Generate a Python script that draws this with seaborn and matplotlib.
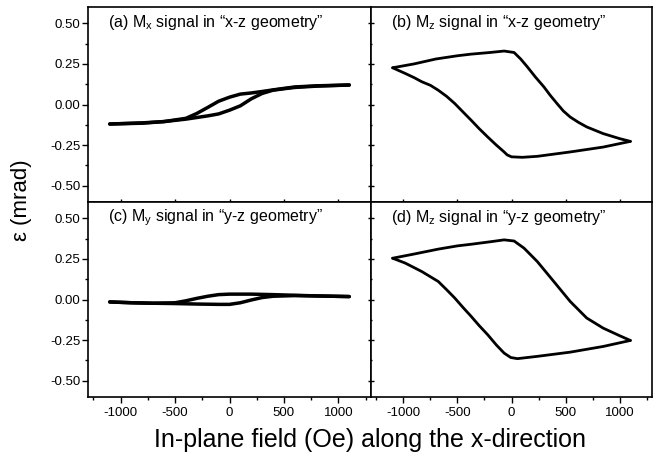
import numpy as np
import pandas as pd
import matplotlib
matplotlib.use("Agg")
import matplotlib.pyplot as plt
from matplotlib.ticker import MultipleLocator
import seaborn as sns

sns.set_theme(style="white")
plt.rcParams['font.family'] = ['Liberation Sans', 'DejaVu Sans']
plt.rcParams['mathtext.fontset'] = 'custom'
plt.rcParams['mathtext.rm'] = 'Liberation Sans'
plt.rcParams['mathtext.it'] = 'Liberation Sans:italic'

# ---- data (field in Oe, epsilon in mrad) ----
# (a) Mx, x-z geometry
a_up_field = [-1100, -800, -600, -400, -300, -200, -100, 0, 100, 200, 300, 400, 500, 600, 800, 1100]
a_up_eps = [-0.12, -0.115, -0.105, -0.09, -0.08, -0.07, -0.058, -0.035, -0.008, 0.035, 0.068, 0.088, 0.097, 0.105, 0.113, 0.12]
a_dn_field = [1100, 800, 600, 400, 300, 200, 100, 0, -100, -200, -300, -400, -600, -800, -1100]
a_dn_eps = [0.12, 0.115, 0.108, 0.09, 0.08, 0.071, 0.064, 0.045, 0.02, -0.018, -0.055, -0.085, -0.105, -0.113, -0.12]

# (b) Mz, x-z geometry
b_up_field = [-1100, -900, -700, -500, -373, -200, -68, 24, 85, 146, 220, 299, 360, 421, 480, 543, 620, 696, 848, 1001, 1100]
b_up_eps = [0.226, 0.25, 0.28, 0.30, 0.31, 0.32, 0.329, 0.32, 0.28, 0.232, 0.17, 0.109, 0.055, 0.006, -0.04, -0.077, -0.11, -0.138, -0.179, -0.21, -0.227]
b_dn_field = [1100, 848, 543, 238, 100, 0, -40, -68, -140, -220, -300, -373, -450, -525, -600, -678, -750, -830, -900, -983, -1100]
b_dn_eps = [-0.227, -0.262, -0.292, -0.319, -0.325, -0.322, -0.31, -0.292, -0.25, -0.2, -0.148, -0.097, -0.045, 0.006, 0.05, 0.088, 0.118, 0.14, 0.165, 0.191, 0.226]

# (c) My, y-z geometry
c_up_field = [-1100, -900, -700, -500, -300, -100, 0, 100, 200, 300, 400, 600, 800, 1100]
c_up_eps = [-0.015, -0.02, -0.023, -0.025, -0.028, -0.03, -0.03, -0.02, -0.003, 0.012, 0.02, 0.024, 0.022, 0.018]
c_dn_field = [1100, 800, 600, 400, 200, 0, -100, -200, -300, -400, -500, -700, -900, -1100]
c_dn_eps = [0.018, 0.022, 0.026, 0.03, 0.033, 0.033, 0.03, 0.02, 0.007, -0.008, -0.02, -0.023, -0.02, -0.015]

# (d) Mz, y-z geometry
d_up_field = [-1100, -900, -678, -500, -373, -200, -68, 24, 116, 238, 391, 543, 696, 848, 1001, 1100]
d_up_eps = [0.254, 0.28, 0.31, 0.33, 0.34, 0.355, 0.367, 0.36, 0.316, 0.234, 0.111, -0.012, -0.114, -0.176, -0.223, -0.252]
d_dn_field = [1100, 848, 543, 238, 55, -7, -68, -140, -220, -300, -373, -450, -525, -600, -678, -830, -983, -1100]
d_dn_eps = [-0.252, -0.289, -0.324, -0.35, -0.364, -0.357, -0.33, -0.28, -0.217, -0.16, -0.104, -0.048, 0.009, 0.06, 0.111, 0.172, 0.224, 0.254]

panel_labels = [
    "(a) M$_{\\mathregular{x}}$ signal in \u201cx-z geometry\u201d",
    "(b) M$_{\\mathregular{z}}$ signal in \u201cx-z geometry\u201d",
    "(c) M$_{\\mathregular{y}}$ signal in \u201cy-z geometry\u201d",
    "(d) M$_{\\mathregular{z}}$ signal in \u201cy-z geometry\u201d",
]
x_ticks = [-1000, -500, 0, 500, 1000]
y_ticks = [-0.50, -0.25, 0.00, 0.25, 0.50]

panels = [
    (a_up_field, a_up_eps, a_dn_field, a_dn_eps),
    (b_up_field, b_up_eps, b_dn_field, b_dn_eps),
    (c_up_field, c_up_eps, c_dn_field, c_dn_eps),
    (d_up_field, d_up_eps, d_dn_field, d_dn_eps),
]

fig = plt.figure(figsize=(6.59, 4.57), dpi=100)
W, H = 659, 457
xl, xm, xr = 88, 371, 652
yt, ym, yb = 7, 202, 397
rects = [
    (xl, yt, xm, ym), (xm, yt, xr, ym),
    (xl, ym, xm, yb), (xm, ym, xr, yb),
]
axes = []
for (x0, y0, x1, y1) in rects:
    ax = fig.add_axes([x0 / W, 1 - y1 / H, (x1 - x0) / W, (y1 - y0) / H])
    axes.append(ax)

for i, (ax, data) in enumerate(zip(axes, panels)):
    uf, ue, df_, de = data
    lw = 2.5 if i % 2 == 0 else 2.0
    sns.lineplot(x=uf, y=ue, ax=ax, sort=False, estimator=None, color='black', linewidth=lw)
    sns.lineplot(x=df_, y=de, ax=ax, sort=False, estimator=None, color='black', linewidth=lw)
    ax.set_xlim(-1300, 1300)
    ax.set_ylim(-0.6, 0.6)
    ax.set_xticks(x_ticks)
    ax.set_yticks(y_ticks)
    ax.xaxis.set_minor_locator(MultipleLocator(250))
    ax.yaxis.set_minor_locator(MultipleLocator(0.125))
    ax.set_xlabel("")
    ax.set_ylabel("")
    for s in ax.spines.values():
        s.set_color('black')
        s.set_linewidth(1.2)
    left = (i % 2 == 0)
    bottom = (i >= 2)
    ax.tick_params(axis='both', which='both', colors='black', labelsize=9.5, width=1.0, pad=1.5)
    ax.tick_params(axis='both', which='major', length=4)
    ax.tick_params(axis='both', which='minor', length=2)
    ax.tick_params(axis='x', which='both', bottom=True, top=False,
                   direction='out' if bottom else 'inout', labelbottom=bottom)
    ax.tick_params(axis='y', which='both', left=True, right=False,
                   direction='out' if left else 'inout', labelleft=left)
    ax.tick_params(axis='x', which='major', pad=3)
    if bottom:
        ax.set_xticklabels([str(v) for v in x_ticks])
    if left:
        ax.set_yticklabels([f"{v:.2f}" for v in y_ticks])
    ax.text(0.072, 0.92, panel_labels[i], transform=ax.transAxes, fontsize=11.5,
            ha='left', va='center', color='black')

fig.text(22 / W, 1 - 200 / H, "\u03b5 (mrad)", rotation=90, fontsize=16,
         ha='center', va='center', color='black')
fig.text(370 / W, 1 - 440 / H, "In-plane field (Oe) along the x-direction", fontsize=18,
         ha='center', va='center', color='black')

fig.savefig("out.png", dpi=100)
